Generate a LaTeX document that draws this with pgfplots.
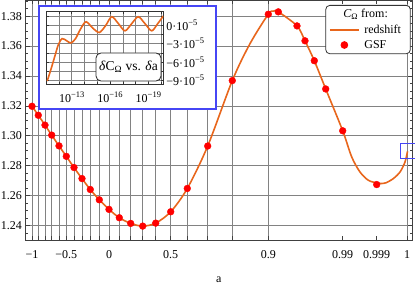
\documentclass[border=0pt]{standalone}
\usepackage{fontspec}
\setmainfont{Liberation Serif}
\usepackage{pgfplots}
\pgfplotsset{compat=1.18}
\definecolor{curveor}{RGB}{232,102,28}
\definecolor{boxblue}{RGB}{70,70,245}
\definecolor{gridgray}{RGB}{130,130,130}
\newcommand{\sups}[1]{\raisebox{0.42em}{\fontsize{8.5bp}{9bp}\selectfont #1}}
\begin{document}
\begin{tikzpicture}
\useasboundingbox (0,0) rectangle (415bp,287bp);
\begin{axis}[
 at={(25.5bp,47bp)}, anchor=south west,
 scale only axis, width=386.5bp, height=239.5bp,
 xmin=25.5, xmax=412, ymin=1.2302, ymax=1.3905,
 clip=false,
 font=\fontsize{12bp}{14bp}\selectfont,
 axis line style={black!75, line width=0.8bp},
 tick align=inside, tick pos=both,
 major tick length=4bp, minor tick length=2.5bp,
 every tick/.style={black!75, line width=0.6bp},
 xtick={32,38.3,45,51.7,59,66.3,74,82,90.3,99.3,109,119.3,130.7,142.7,155.7,170.7,187.3,207.7,232.3,268.3,407},
 xticklabels={−1,,,,,−0.5,,,,,0,,,,,0.5,,,,0.9,1},
 extra x ticks={342.7,376.7},
 extra x tick labels={0.99,0.999},
 extra x tick style={grid=none},
 xticklabel style={anchor=center, yshift=-15bp},
 ytick={1.24,1.26,1.28,1.30,1.32,1.34,1.36,1.38},
 yticklabels={1.24,1.26,1.28,1.30,1.32,1.34,1.36,1.38},
 minor ytick={1.235,1.245,1.25,1.255,1.265,1.27,1.275,1.285,1.29,1.295,1.305,1.31,1.315,1.325,1.33,1.335,1.345,1.35,1.355,1.365,1.37,1.375,1.385,1.39},
 grid=major,
 major grid style={gridgray, line width=0.6bp},
 xlabel={a},
 xlabel style={at={(axis description cs:0.5,0)}, anchor=center, yshift=-39.5bp},
 legend image code/.code={\draw[mark repeat=2,mark phase=2,#1] plot coordinates {(0bp,0bp) (14.5bp,0bp) (29bp,0bp)};},
 legend style={at={(0.9967,0.9812)}, anchor=north east, draw=black!80, line width=0.8bp,
   rounded corners=4bp, inner xsep=3.3bp, inner ysep=2bp,
   nodes={inner sep=2bp}, row sep=1.5bp, column sep=2.7bp,
   font=\fontsize{12bp}{14bp}\selectfont},
 legend cell align=left,
]
\addlegendimage{empty legend}
\addlegendentry{\hspace*{-21bp}\textit{C}\textsubscript{Ω} from:}
\addplot[curveor, line width=1.6bp, smooth, tension=0.5] coordinates {
(32,1.3197) (38.3,1.3137) (45,1.3071) (51.7,1.3004) (59,1.2932) (66.3,1.2862)
(74,1.2787) (82,1.2713) (90.3,1.2640) (99.3,1.2571) (109,1.2507) (119.3,1.2451)
(130.7,1.2413) (142.7,1.2395) (155.7,1.2415) (170.7,1.2491) (187.3,1.2647)
(207.7,1.2931) (232.3,1.3369) (250,1.3616) (268.3,1.3813) (273.5,1.3834) (278.3,1.3829)
(297,1.3735) (305,1.3635) (314.3,1.3502) (325.7,1.3313) (342.7,1.3033)
(351.7,1.2858) (360,1.2757) (368.3,1.2702) (376.7,1.2684) (381,1.2680)
(386,1.2685) (393.3,1.2713) (400,1.2757) (405,1.2824) (407.5,1.2895)
};
\addlegendentry{redshift\hspace*{4bp}}
\addplot[only marks, mark=*, mark size=3.4bp, red, mark options={draw=red, fill=red}] coordinates {
(32,1.3197) (38.3,1.3137) (45,1.3071) (51.7,1.3004) (59,1.2932) (66.3,1.2862)
(74,1.2787) (82,1.2713) (90.3,1.2640) (99.3,1.2571) (109,1.2507) (119.3,1.2451)
(130.7,1.2413) (142.7,1.2395) (155.7,1.2415) (170.7,1.2491) (187.3,1.2647)
(207.7,1.2931) (232.3,1.3369) (268.3,1.3813) (278.3,1.3829)
(297,1.3735) (305,1.3635) (314.3,1.3502) (325.7,1.3313) (342.7,1.3033) (376.7,1.2673)
};
\addlegendentry{GSF}
\draw[boxblue, line width=1.2bp] (axis cs:400.5,1.2849) rectangle (axis cs:418,1.2949);
\end{axis}
\fill[white] (39bp,178bp) rectangle (216bp,281bp);
\draw[boxblue, line width=1.2bp] (39bp,178bp) rectangle (216bp,281bp);
\begin{axis}[
 at={(46.7bp,202.5bp)}, anchor=south west,
 scale only axis, width=116.6bp, height=72.8bp,
 xmin=11.04, xmax=20.17, ymin=-9.66, ymax=2.18,
 font=\fontsize{12bp}{14bp}\selectfont,
 axis line style={black!80, line width=0.7bp},
 tick align=inside, tick pos=both,
 yticklabel pos=right,
 major tick length=2.5bp,
 every tick/.style={black!80, line width=0.5bp},
 xtick={11,12,13,14,15,16,17,18,19,20},
 xticklabels={,,10\sups{−13},,,10\sups{−16},,,10\sups{−19},},
 xticklabel style={yshift=-4bp},
 ytick={-9,-7.5,-6,-4.5,-3,-1.5,0,1.5},
 yticklabels={−9·10\sups{−5},,−6·10\sups{−5},,−3·10\sups{−5},,0·10\sups{−5},},
 yticklabel style={xshift=-0.5bp},
 grid=major,
 major grid style={gridgray, line width=0.5bp},
]
\addplot[curveor, line width=1.6bp, smooth, tension=0.5] coordinates {
(11.08,-9.1) (11.4,-7.0) (11.7,-4.9) (11.95,-3.2) (12.25,-2.2) (12.6,-2.55) (12.94,-2.9)
(13.3,-2.2) (13.7,-0.6) (14.12,0.54) (14.65,-0.5) (15.16,-1.2) (15.65,-0.1) (16.13,1.36)
(16.65,0.25) (17.17,-0.93) (17.7,0.25) (18.21,1.36) (18.73,0.25) (19.26,-0.93) (19.72,0.2) (20.17,1.48)
};
\end{axis}
\node[draw=black!85, fill=white, line width=0.8bp, rounded corners=5bp,
  minimum width=65bp, minimum height=28bp, inner sep=0pt,
  font=\fontsize{13.5bp}{15bp}\selectfont] at (128.5bp,220bp)
  {\textit{δ}C\textsubscript{Ω} vs. \textit{δ}a};
\end{tikzpicture}
\end{document}
